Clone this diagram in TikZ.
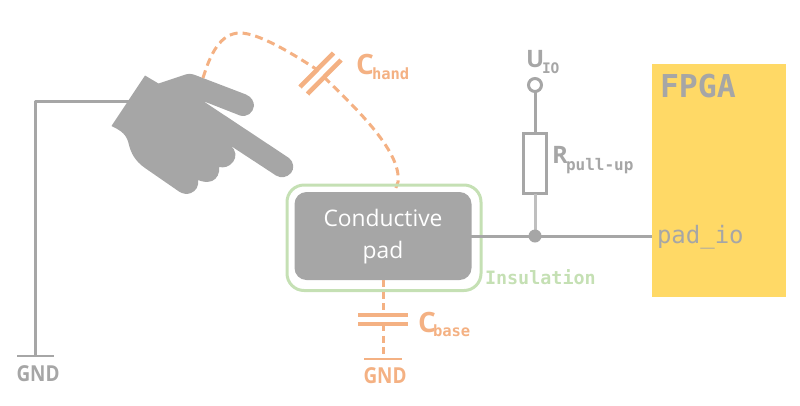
\documentclass[tikz,border=0pt]{standalone}
\usepackage{fontspec}
\setmainfont{Open Sans}
\setmonofont{DejaVu Sans Mono}
\newfontfamily\condfont[FakeStretch=0.86]{Open Sans}
\definecolor{wire}{HTML}{A6A6A6}
\definecolor{wirelt}{HTML}{BFBFBF}
\definecolor{orng}{HTML}{F4B183}
\definecolor{grn}{HTML}{C5E0B4}
\definecolor{fpga}{HTML}{FFD966}
\tikzset{
  wireline/.style={draw=wire,line width=3pt},
  capdash/.style={draw=orng,line width=3pt,dash pattern=on 8pt off 5pt},
  capplate/.style={draw=orng,line width=4.6pt},
  lbl/.style={inner sep=0pt,outer sep=0pt,anchor=base west},
  gndbar/.style={line width=2.8pt},
}
\begin{document}
\begin{tikzpicture}[x=1pt,y=-1pt]
\useasboundingbox (0,0) rectangle (800,405);
% coordinates
\coordinate (gndA) at (35,356);
\coordinate (corner) at (35,101);
\coordinate (wrist) at (135,101);
\coordinate (gndB) at (383,359);
\coordinate (capB1) at (383,316);
\coordinate (capB2) at (383,324);
\coordinate (junction) at (535,236);
\coordinate (capH1) at (316,69);
\coordinate (capH2) at (324,77);
\coordinate (handtop) at (203,78);
\coordinate (padtop) at (394,193);
% FPGA
\node[fill=fpga,inner sep=0pt,outer sep=0pt,minimum width=134pt,minimum height=233pt,anchor=north west] (fpgabox) at (652,64) {};
\node[lbl,text=wire,font=\ttfamily\bfseries\fontsize{31.5}{31.5}\selectfont] (fpgatxt) at (660,97) {FPGA};
\node[lbl,text=wire,font=\ttfamily\fontsize{24}{24}\selectfont] (padio) at (657,243) {pad\_io};
% left GND wire
\draw[wireline,line join=round] (wrist) -- (corner) -- (gndA);
\draw[wireline,gndbar] (17,356) -- (54,356);
\node[lbl,text=wire,font=\condfont\bfseries\fontsize{22}{22}\selectfont] (gndl) at (16.5,381) {GND};
% hand
\fill[wire] (145,75.5) -- (158.5,83.5) -- (184,75)
  .. controls (188,73.5) and (191,73.5) .. (195,75)
  -- (246,94.5)
  .. controls (252,97) and (254,102) .. (254,106)
  .. controls (253,113) and (247,117.5) .. (240,115.5)
  -- (203,101) -- (289,158)
  .. controls (294,162) and (294.5,169) .. (291,173)
  .. controls (287,177.5) and (281,178.5) .. (276,175.5)
  -- (231,146)
  .. controls (236,150) and (237,157) .. (233,162)
  .. controls (229,167) and (224,168) .. (219,167)
  .. controls (220,173) and (217,179) .. (212,181)
  .. controls (207,182.5) and (203,182) .. (198,180)
  .. controls (199,186) and (196,191) .. (191,193)
  .. controls (187,194.5) and (183,194) .. (179,191.5)
  -- (145,168)
  .. controls (135,161) and (131,153) .. (129,145)
  .. controls (127,135) and (122,131) .. (111.5,126)
  -- cycle;
% Chand dashed
\draw[capdash] (handtop) .. controls (210,55) and (220,33) .. (240,33)
  .. controls (258,33) and (290,52) .. (capH1);
\draw[capdash] (capH2) .. controls (350,103) and (402,150) .. (398,182) -- (padtop);
\draw[capplate] (333.5,53) -- (300,87);
\draw[capplate] (341,60) -- (307.5,94);
\node[lbl,text=orng,font=\bfseries\fontsize{28}{28}\selectfont] (chand) at (356,74) {C};
\node[lbl,text=orng,font=\ttfamily\bfseries\fontsize{15.5}{16}\selectfont] (chands) at (372,79) {hand};
% insulation
\node[draw=grn,line width=3pt,rounded corners=17pt,outer sep=0pt,minimum width=194pt,minimum height=105.5pt,anchor=north west,inner sep=0pt] (ins) at (287,185) {};
% pad
\draw[wireline] (470,236) -- (fpgabox.west |- 470,236);
\node[fill=wire,rounded corners=12pt,outer sep=0pt,minimum width=177pt,minimum height=88pt,anchor=north west,inner sep=0pt] (pad) at (294.5,192) {};
\node[text=white,align=center,font=\fontsize{22.8}{32}\selectfont,inner sep=0pt] (padtxt) at (383,237) {Conductive\\pad};
\node[lbl,text=grn,font=\ttfamily\bfseries\fontsize{18.4}{18}\selectfont] (instxt) at (485,284) {Insulation};
% Cbase
\draw[capdash,dash pattern=on 7pt off 4.5pt] (pad.south -| capB1) -- (capB1);
\draw[capdash,dash pattern=on 7pt off 4.5pt] (capB2) -- (gndB);
\draw[capplate] (358,315) -- (408,315);
\draw[capplate] (358,324) -- (408,324);
\draw[draw=orng,gndbar] (364,359) -- (402,359);
\node[lbl,text=orng,font=\bfseries\fontsize{28}{28}\selectfont] (cbase) at (418,332) {C};
\node[lbl,text=orng,font=\ttfamily\bfseries\fontsize{15.5}{16}\selectfont] (cbases) at (433,336) {base};
\node[lbl,text=orng,font=\condfont\bfseries\fontsize{22}{22}\selectfont] (gndr) at (363.5,383) {GND};
% pull up
\node[draw=wire,line width=3pt,outer sep=0pt,minimum width=23pt,minimum height=60pt,inner sep=0pt] (res) at (535,163.5) {};
\node[circle,draw=wire,line width=3pt,fill=white,outer sep=0pt,minimum size=13pt,inner sep=0pt] (uio) at (535,85) {};
\draw[wireline] (uio) -- (res);
\draw[draw=wirelt,line width=3pt] (res) -- (junction);
\node[circle,fill=wire,minimum size=13pt,inner sep=0pt] (dot) at (junction) {};
\node[lbl,text=wire,font=\bfseries\fontsize{24}{24}\selectfont] (u) at (526,67) {U};
\node[lbl,text=wire,font=\ttfamily\bfseries\fontsize{14.5}{14}\selectfont] (io) at (542,73) {IO};
\node[lbl,text=wire,font=\bfseries\fontsize{24}{24}\selectfont] (r) at (552,163) {R};
\node[lbl,text=wire,font=\ttfamily\bfseries\fontsize{16}{16}\selectfont] (rs) at (566,170) {pull-up};
\end{tikzpicture}
\end{document}
